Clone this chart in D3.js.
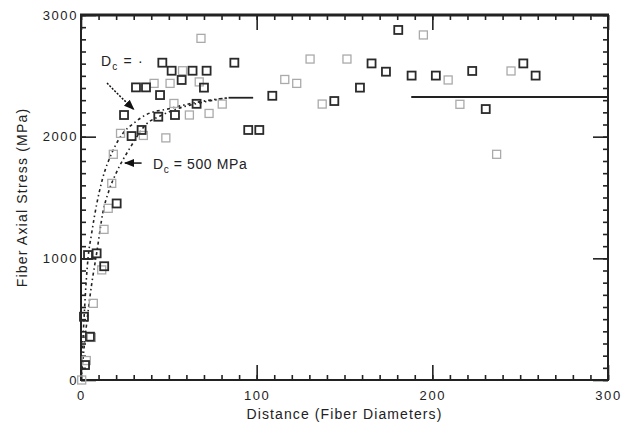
<!DOCTYPE html>
<html>
<head>
<meta charset="utf-8">
<script src="https://cdn.jsdelivr.net/npm/d3@7"></script>
<style>
  body { margin: 0; background: #fff; }
  svg { display: block; }
  text { font-family: "Liberation Sans", Arial, sans-serif; fill: #222; }
</style>
</head>
<body>
<svg></svg>
<script>
// bold squares: [distance, stress]
const darkPts = [
  [1.7, 520], [2.3, 123], [5.1, 356], [4, 1027], [8.9, 1041], [13.2, 935],
  [20.3, 1451], [24.5, 2178], [28.8, 2005], [34.5, 2055], [31.3, 2405], [37, 2405],
  [44, 2164], [45, 2342], [46.3, 2608], [51.6, 2542], [53.5, 2178], [57.3, 2466],
  [63.5, 2542], [71.5, 2542], [65.8, 2270], [70, 2403], [95.2, 2055], [101.5, 2055],
  [108.9, 2336], [144.2, 2293], [158.8, 2403], [165.4, 2602], [173.6, 2534],
  [180.6, 2877], [188.2, 2502], [202, 2502], [222.7, 2540], [230.4, 2227],
  [251.8, 2602], [258.8, 2502], [87.3, 2608]
]
// light squares
const lightPts = [
  [0.4, 0], [3, 160], [5.9, 350], [7, 630], [11.8, 905], [13.1, 1238], [15.5, 1411],
  [17.5, 1616], [18.4, 1855], [22.5, 2027], [35.5, 2010], [41.6, 2438], [48.3, 1990],
  [50.7, 2438], [52.9, 2273], [57.8, 2542], [61.7, 2178], [67.3, 2450], [68.3, 2808],
  [72.9, 2191], [80.4, 2268], [116, 2470], [122.8, 2438], [130.4, 2638], [137.3, 2268],
  [151.4, 2638], [194.9, 2836], [209, 2466], [215.7, 2266], [236.6, 1855], [244.8, 2540]
]
// model curves
const curveInf = [
  [0, 0], [1, 300], [2, 580], [3, 820], [4, 1000], [6, 1200], [9, 1450], [12, 1640],
  [18, 1880], [24, 2030], [30, 2110], [37, 2180], [50, 2230], [65, 2280], [84, 2320]
]
const curve500 = [
  [0, 0], [2, 300], [4, 560], [6, 780], [9, 1050], [12.5, 1380], [16, 1560], [20, 1700],
  [28, 1910], [37, 2100], [45, 2170], [55, 2230], [70, 2285], [84, 2320]
]
const plateauA = [[84, 2320], [98, 2320]]
const plateauB = [[188, 2326], [300, 2326]]

const xMajor = [0, 100, 200, 300]
const yMajor = [0, 1000, 2000, 3000]
const xMinor = d3.range(0, 301, 10)
const yMinor = d3.range(0, 3001, 100)

const width = 635, height = 428
const mLeft = 81, mRight = 608, mTop = 15, mBottom = 380

const svg = d3.select('svg').attr('width', width).attr('height', height)

const xScale = d3.scaleLinear().domain([0, 300]).range([mLeft, mRight])
const yScale = d3.scaleLinear().domain([0, 3000]).range([mBottom, mTop])

// axes, ticks pointing in
const addAxis = (axis, tr, vals, size, labels) => {
  const g = svg.append('g')
    .attr('transform', tr)
    .call(axis.tickValues(vals).tickSize(size).tickSizeOuter(0)
      .tickFormat(labels ? d3.format('d') : ''))
  g.select('.domain').remove()
  g.selectAll('line').attr('stroke', '#222').attr('stroke-width', 1.6)
  g.selectAll('text').style('font-size', '13px').style('letter-spacing', '1.6px').attr('fill', '#222')
  return g
}
addAxis(d3.axisBottom(xScale).tickPadding(11), `translate(0,${mBottom})`, xMajor, -15, true)
addAxis(d3.axisBottom(xScale), `translate(0,${mBottom})`, xMinor, -5, false)
addAxis(d3.axisTop(xScale), `translate(0,${mTop})`, xMajor, -15, false)
addAxis(d3.axisTop(xScale), `translate(0,${mTop})`, xMinor, -5, false)
addAxis(d3.axisLeft(yScale).tickPadding(3), `translate(${mLeft},0)`, yMajor, -15, true)
addAxis(d3.axisLeft(yScale), `translate(${mLeft},0)`, yMinor, -5, false)
addAxis(d3.axisRight(yScale), `translate(${mRight},0)`, yMajor, -15, false)
addAxis(d3.axisRight(yScale), `translate(${mRight},0)`, yMinor, -5, false)

// frame
svg.append('path')
  .attr('d', `M${mLeft},${mTop}V${mBottom}H${mRight}V${mTop}`)
  .attr('fill', 'none').attr('stroke', '#222').attr('stroke-width', 2)
svg.append('line')
  .attr('x1', mLeft - 1).attr('x2', mRight + 1).attr('y1', mTop).attr('y2', mTop)
  .attr('stroke', '#222').attr('stroke-width', 3)

// curves
const line = d3.line().x(d => xScale(d[0])).y(d => yScale(d[1])).curve(d3.curveMonotoneX)
;[curveInf, curve500].forEach(c => {
  svg.append('path').attr('d', line(c))
    .attr('fill', 'none').attr('stroke', '#222').attr('stroke-width', 1.6)
    .attr('stroke-dasharray', '3,3,1.5,3')
})
;[plateauA, plateauB].forEach(c => {
  svg.append('path').attr('d', line(c))
    .attr('fill', 'none').attr('stroke', '#222').attr('stroke-width', 1.8)
})

// squares
const sq = 8
svg.selectAll('rect.light')
  .data(lightPts)
  .enter()
  .append('rect')
  .attr('class', 'light')
  .attr('x', d => xScale(d[0]) - sq / 2)
  .attr('y', d => yScale(d[1]) - sq / 2)
  .attr('width', sq).attr('height', sq)
  .attr('fill', 'none').attr('stroke', '#aaa').attr('stroke-width', 1.3)

svg.selectAll('rect.dark')
  .data(darkPts)
  .enter()
  .append('rect')
  .attr('class', 'dark')
  .attr('x', d => xScale(d[0]) - sq / 2)
  .attr('y', d => yScale(d[1]) - sq / 2)
  .attr('width', sq).attr('height', sq)
  .attr('fill', 'none').attr('stroke', '#2a2a2a').attr('stroke-width', 1.8)

// annotations
svg.append('defs').append('marker')
  .attr('id', 'head').attr('viewBox', '0 0 10 10').attr('refX', 9).attr('refY', 5)
  .attr('markerWidth', 7).attr('markerHeight', 7).attr('orient', 'auto')
  .append('path').attr('d', 'M0,1L10,5L0,9Z').attr('fill', '#111')

const t1 = svg.append('text').attr('x', xScale(11.4)).attr('y', yScale(2580))
  .style('font-size', '14px').style('letter-spacing', '1.2px')
t1.append('tspan').text('D')
t1.append('tspan').attr('dy', 4).style('font-size', '10px').text('c')
t1.append('tspan').attr('dy', -4).text(' = ·')

svg.append('path')
  .attr('d', line([[14.8, 2441], [21, 2350], [30, 2225]]))
  .attr('fill', 'none').attr('stroke', '#111').attr('stroke-width', 1.5)
  .attr('stroke-dasharray', '2,1.5').attr('marker-end', 'url(#head)')

const t2 = svg.append('text').attr('x', xScale(41)).attr('y', yScale(1734))
  .style('font-size', '14px').style('letter-spacing', '0.6px')
t2.append('tspan').text('D')
t2.append('tspan').attr('dy', 4).style('font-size', '10px').text('c')
t2.append('tspan').attr('dy', -4).text(' = 500 MPa')

svg.append('path')
  .attr('d', line([[34.5, 1783], [25, 1783]]))
  .attr('fill', 'none').attr('stroke', '#111').attr('stroke-width', 1.5)
  .attr('marker-end', 'url(#head)')

// axis titles
svg.append('text')
  .attr('x', (mLeft + mRight) / 2).attr('y', 419)
  .attr('text-anchor', 'middle').style('font-size', '14px').style('letter-spacing', '1.1px')
  .text('Distance (Fiber Diameters)')
svg.append('text')
  .attr('transform', `translate(27,${(mTop + mBottom) / 2}) rotate(-90)`)
  .attr('text-anchor', 'middle').style('font-size', '14px').style('letter-spacing', '1.2px')
  .text('Fiber Axial Stress (MPa)')
</script>
</body>
</html>
